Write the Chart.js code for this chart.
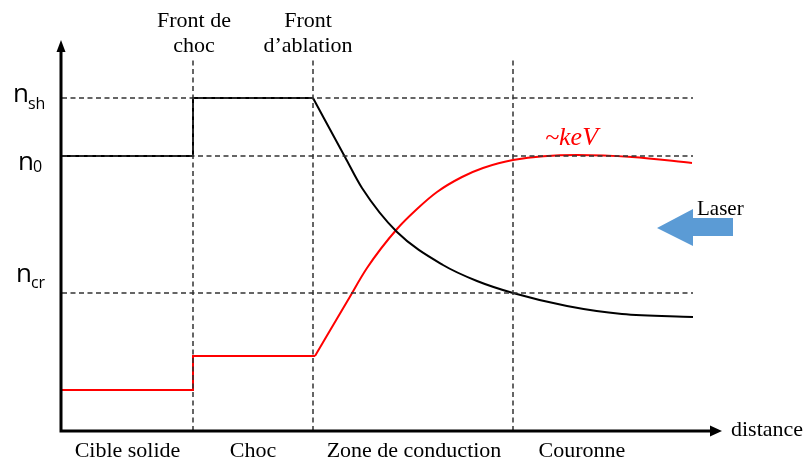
<!DOCTYPE html>
<html>
<head>
<meta charset="utf-8">
<script src="https://cdn.jsdelivr.net/npm/chart.js@4"></script>
<style>
  body { margin: 0; background: #fff; }
  #wrap { width: 805px; height: 462px; }
</style>
</head>
<body>
<div id="wrap"><canvas id="profile" width="805" height="462"></canvas></div>
<script>
// distance in arbitrary units, density / temperature in arbitrary units
const nLevels = [33.3, 27.5, 13.8];          // n_sh, n0, n_cr
const levelNames = [['n', 'sh'], ['n', '0'], ['n', 'cr']];
const fronts = [13.1, 25.1, 45.1];           // front de choc, front d'ablation, couronne
const frontTop = 37.1;
const levelEnd = 63.1;

const densStepX = [0, 13.1, 13.1, 25.1];
const densStepY = [27.5, 27.5, 33.3, 33.3];
const densCurveX = [25.1, 28.3, 30.0, 33.5, 38.1, 41.5, 45.1, 50.5, 56.0, 63.1];
const densCurveY = [33.3, 27.4, 24.3, 19.9, 16.6, 15.0, 13.8, 12.5, 11.7, 11.4];

const tempStepX = [0, 13.1, 13.1, 25.3];
const tempStepY = [4.1, 4.1, 7.5, 7.5];
const tempCurveX = [25.3, 28.6, 30.5, 33.5, 35.5, 37.5, 40.0, 42.1, 45.1, 51.5, 57.0, 63.0];
const tempCurveY = [7.5, 13.1, 16.3, 20.2, 22.2, 23.9, 25.4, 26.3, 27.1, 27.6, 27.4, 26.8];

const topLabels = [['Front de', 'choc'], ['Front', 'd\u2019ablation']];
const topLabelX = [13.2, 24.6];
const zoneLabels = ['Cible solide', 'Choc', 'Zone de conduction', 'Couronne'];
const zoneLabelX = [6.55, 19.1, 35.2, 52.0];

function pts(xs, ys) {
    return xs.map((x, i) => ({ x: x, y: ys[i] }));
}

const dashed = {
    borderColor: '#333',
    borderWidth: 1.5,
    borderDash: [5, 3.5],
    pointRadius: 0,
    tension: 0,
};

const datasets = [];
nLevels.forEach(v => {
    datasets.push(Object.assign({ data: [{ x: 0, y: v }, { x: levelEnd, y: v }] }, dashed));
});
fronts.forEach(f => {
    datasets.push(Object.assign({ data: [{ x: f, y: 0 }, { x: f, y: frontTop }] }, dashed));
});
datasets.push({ data: pts(densStepX, densStepY), borderColor: '#000', borderWidth: 2, pointRadius: 0, tension: 0 });
datasets.push({ data: pts(densCurveX, densCurveY), borderColor: '#000', borderWidth: 2, pointRadius: 0, cubicInterpolationMode: 'monotone' });
datasets.push({ data: pts(tempStepX, tempStepY), borderColor: '#ff0000', borderWidth: 2, pointRadius: 0, tension: 0 });
datasets.push({ data: pts(tempCurveX, tempCurveY), borderColor: '#ff0000', borderWidth: 2, pointRadius: 0, cubicInterpolationMode: 'monotone' });

const annotations = {
    id: 'annotations',
    afterDraw(chart) {
        const ctx = chart.ctx;
        const xs = chart.scales.x;
        const ys = chart.scales.y;
        const area = chart.chartArea;
        ctx.save();

        // axes with arrow heads
        ctx.strokeStyle = '#000';
        ctx.fillStyle = '#000';
        ctx.lineWidth = 3;
        ctx.beginPath();
        ctx.moveTo(area.left - 1, area.bottom + 1.5);
        ctx.lineTo(area.left - 1, area.top + 10);
        ctx.moveTo(area.left - 2.5, area.bottom);
        ctx.lineTo(area.right - 10, area.bottom);
        ctx.stroke();
        ctx.beginPath();
        ctx.moveTo(area.left - 1, area.top);
        ctx.lineTo(area.left - 5.5, area.top + 12);
        ctx.lineTo(area.left + 3.5, area.top + 12);
        ctx.closePath();
        ctx.fill();
        ctx.beginPath();
        ctx.moveTo(area.right, area.bottom);
        ctx.lineTo(area.right - 12, area.bottom - 5.5);
        ctx.lineTo(area.right - 12, area.bottom + 5.5);
        ctx.closePath();
        ctx.fill();

        // level names on the left
        const nX = [13, 18, 16];
        const nDy = [4, 14, -11];
        const subDy = [7, 2, 6];
        ctx.textAlign = 'left';
        ctx.textBaseline = 'alphabetic';
        levelNames.forEach((nm, i) => {
            const base = ys.getPixelForValue(nLevels[i]) + nDy[i];
            ctx.font = '26px "Open Sans"';
            ctx.fillText(nm[0], nX[i], base);
            const w = ctx.measureText(nm[0]).width;
            ctx.font = '16px "Open Sans"';
            ctx.fillText(nm[1], nX[i] + w - 1, base + subDy[i]);
        });

        // labels over the fronts
        ctx.font = '22px "Liberation Serif"';
        ctx.textAlign = 'center';
        topLabels.forEach((lines, i) => {
            const x = xs.getPixelForValue(topLabelX[i]);
            ctx.fillText(lines[0], x, 27);
            ctx.fillText(lines[1], x, 52);
        });

        // zone names under the axis
        zoneLabels.forEach((t, i) => {
            ctx.fillText(t, xs.getPixelForValue(zoneLabelX[i]), 457);
        });

        ctx.textAlign = 'left';
        ctx.fillText('distance', 731, 436);
        ctx.font = '21px "Liberation Serif"';
        ctx.fillText('Laser', 697, 215);

        // temperature label
        ctx.fillStyle = '#ff0000';
        ctx.font = 'italic 26px "Liberation Serif"';
        ctx.fillText('~keV', 545, 145);

        // laser arrow
        ctx.fillStyle = '#5b9bd5';
        ctx.beginPath();
        ctx.moveTo(657, 228);
        ctx.lineTo(693, 209);
        ctx.lineTo(693, 218);
        ctx.lineTo(733, 218);
        ctx.lineTo(733, 236);
        ctx.lineTo(693, 236);
        ctx.lineTo(693, 246);
        ctx.closePath();
        ctx.fill();

        ctx.restore();
    }
};

new Chart(document.getElementById('profile').getContext('2d'), {
    type: 'line',
    data: { datasets: datasets },
    options: {
        responsive: false,
        animation: false,
        layout: { padding: { left: 62, right: 83, top: 40, bottom: 31 } },
        plugins: { legend: { display: false }, tooltip: { enabled: false } },
        scales: {
            x: { type: 'linear', min: 0, max: 66, display: false },
            y: { type: 'linear', min: 0, max: 39.1, display: false }
        }
    },
    plugins: [annotations]
});
</script>
</body>
</html>
